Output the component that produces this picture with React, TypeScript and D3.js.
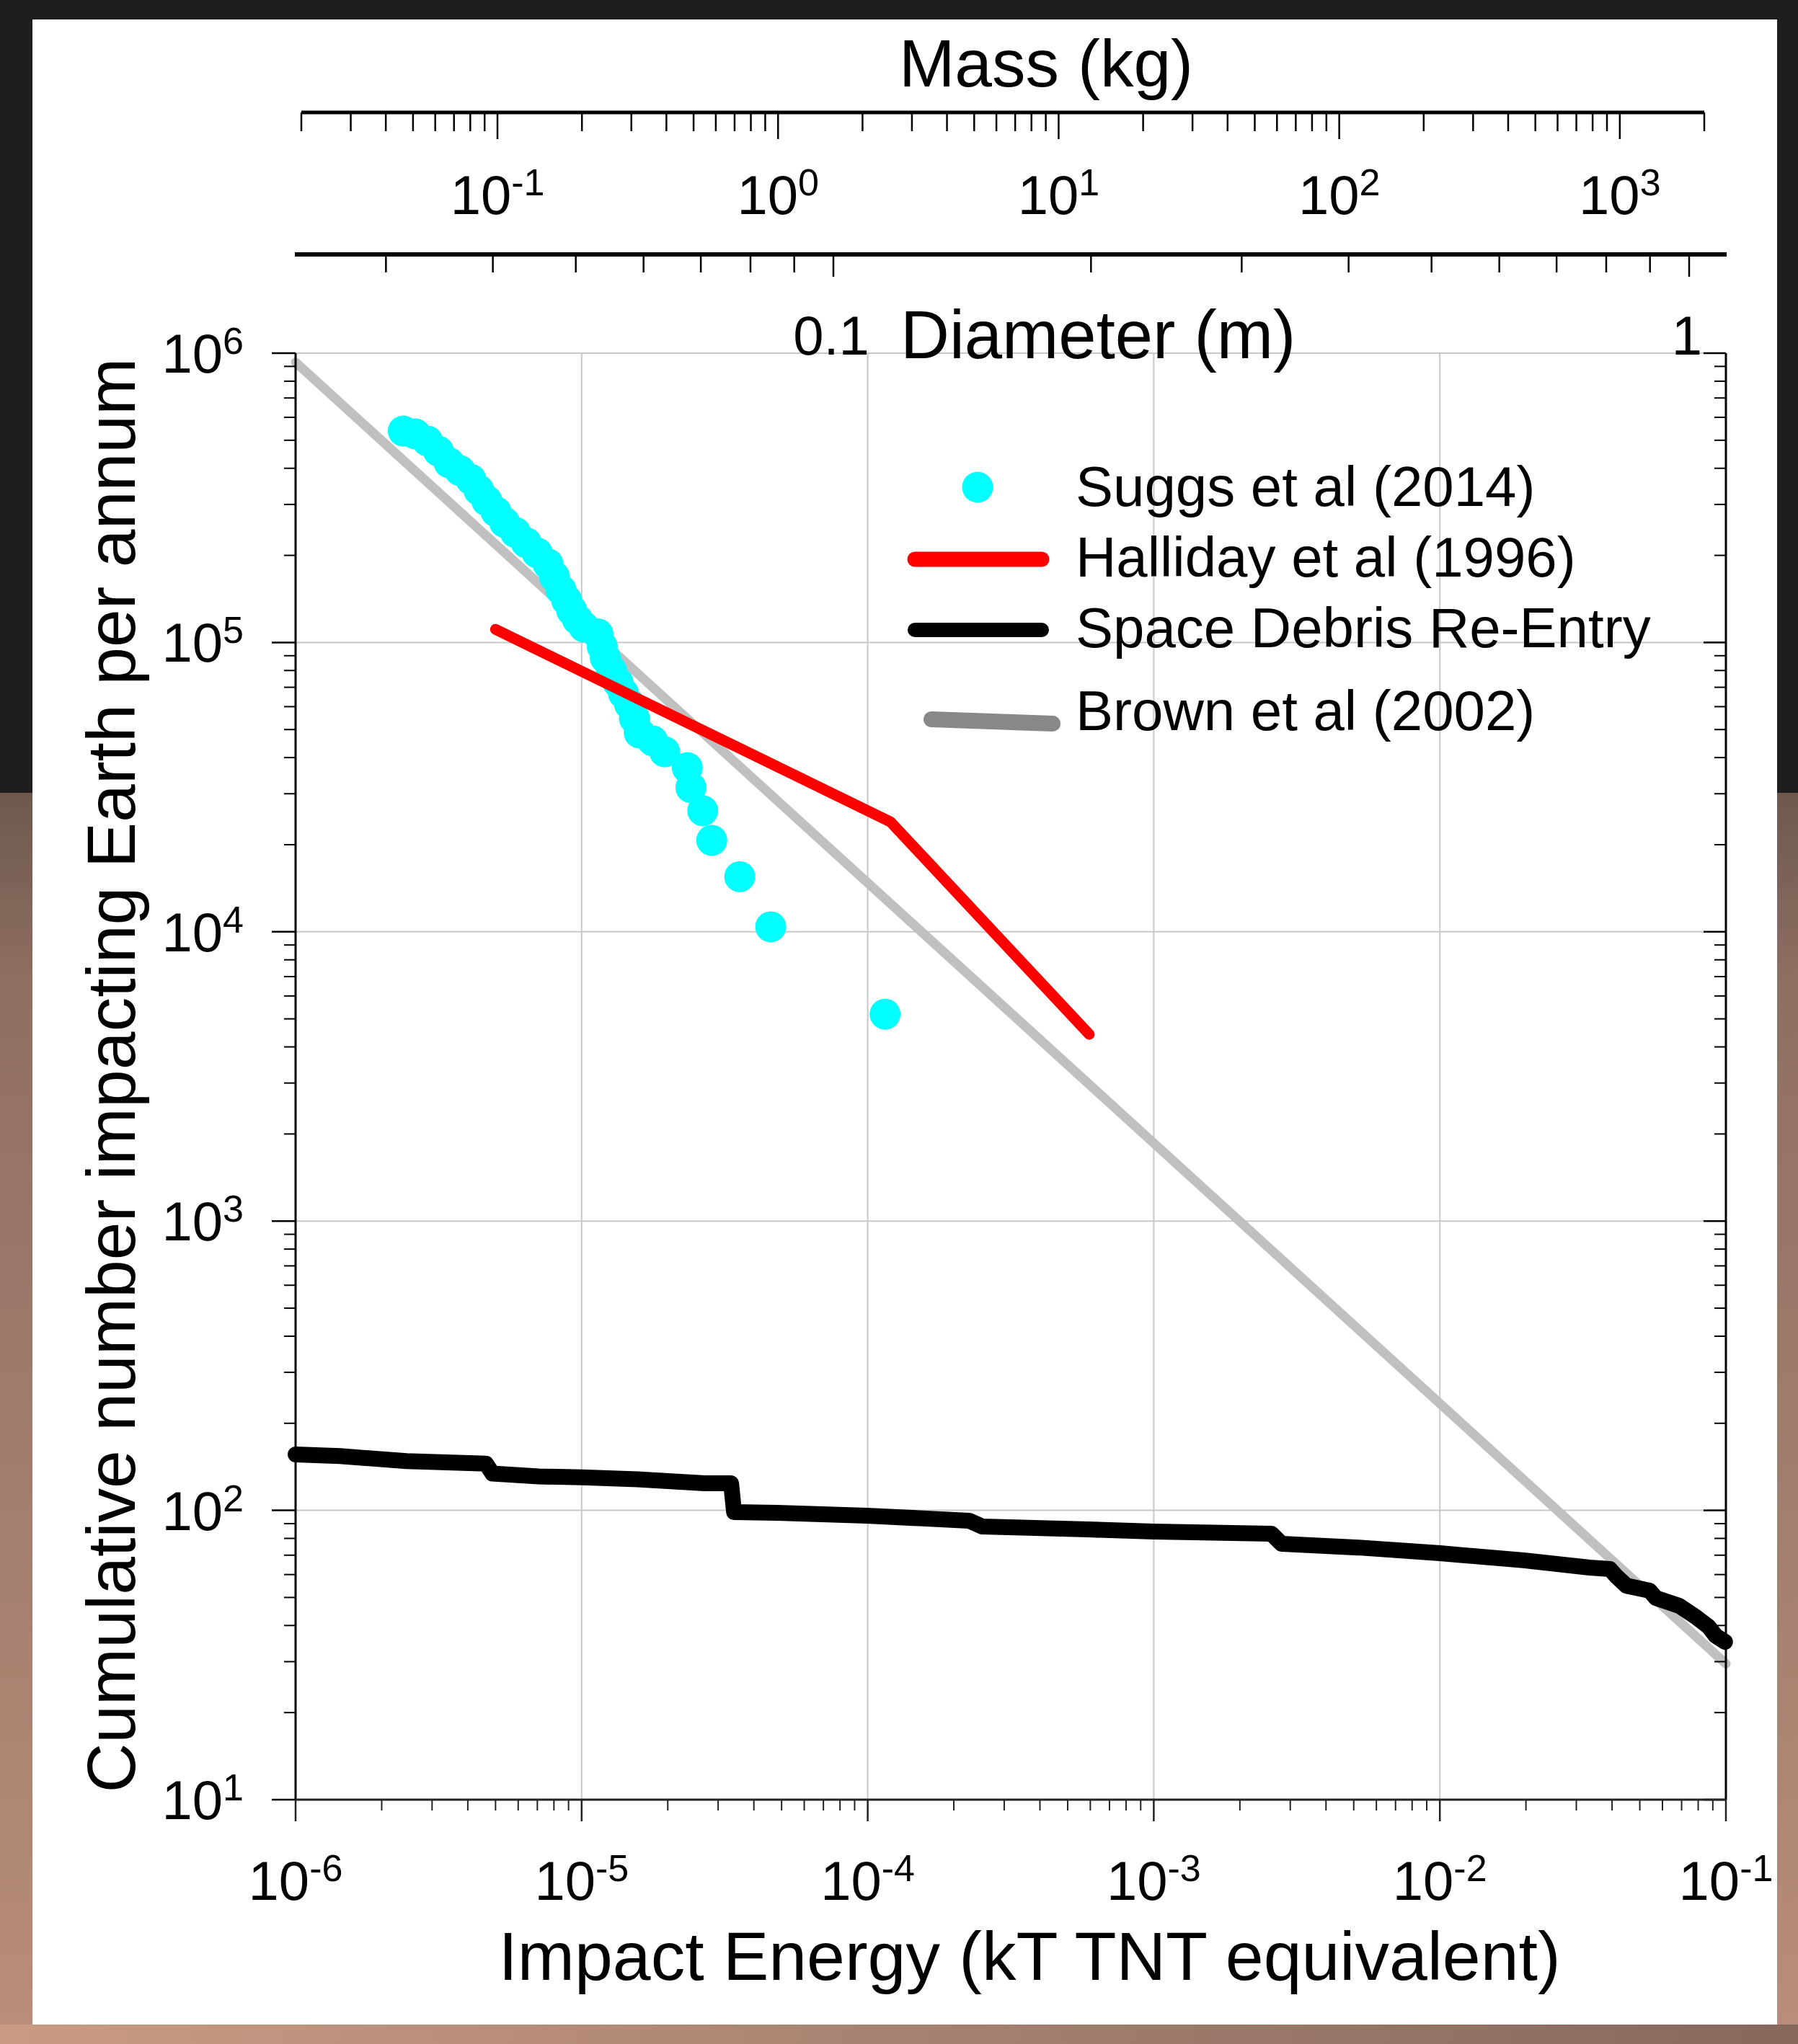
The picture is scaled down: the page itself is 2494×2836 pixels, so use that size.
import React from 'react';
import * as d3 from 'd3';

const W = 2494;
const H = 2836;
const FONT = '"Liberation Sans", Arial, Helvetica, sans-serif';

// Suggs et al (2014): cumulative impact flashes
const suggsEnergy = [2.38e-6, 2.62e-6, 2.89e-6, 3.16e-6, 3.44e-6, 3.75e-6, 4.10e-6, 4.37e-6, 4.66e-6, 5.02e-6,
  5.38e-6, 5.87e-6, 6.41e-6, 6.99e-6, 7.62e-6, 8.03e-6, 8.46e-6, 8.86e-6, 9.23e-6, 9.67e-6,
  1.02e-5, 1.14e-5, 1.18e-5, 1.21e-5, 1.27e-5, 1.34e-5, 1.40e-5, 1.47e-5, 1.53e-5, 1.59e-5,
  1.77e-5, 1.95e-5, 2.34e-5, 2.41e-5, 2.65e-5, 2.85e-5, 3.57e-5, 4.58e-5, 1.15e-4];
const suggsCount = [5.38e5, 5.26e5, 4.97e5, 4.58e5, 4.18e5, 3.93e5, 3.66e5, 3.36e5, 3.09e5, 2.83e5,
  2.60e5, 2.40e5, 2.21e5, 2.04e5, 1.87e5, 1.69e5, 1.52e5, 1.40e5, 1.29e5, 1.20e5,
  1.13e5, 1.07e5, 9.68e4, 8.84e4, 8.01e4, 7.27e4, 6.67e4, 6.12e4, 5.46e4, 4.87e4,
  4.57e4, 4.19e4, 3.69e4, 3.15e4, 2.62e4, 2.07e4, 1.55e4, 1.04e4, 5.19e3];

// Halliday et al (1996)
const hallidayEnergy = [5.0e-6, 1.2e-4, 5.95e-4];
const hallidayCount = [1.11e5, 2.4e4, 4.42e3];

// Brown et al (2002)
const brownEnergy = [1e-6, 0.1];
const brownCount = [9.3e5, 29.5];

// Space debris re-entry
const debrisEnergy = [1.0e-6, 1.43e-6, 2.44e-6, 4.63e-6, 4.88e-6, 7.07e-6, 1.0e-5, 1.57e-5, 2.69e-5, 3.33e-5,
  3.41e-5, 4.83e-5, 9.91e-5, 2.26e-4, 2.51e-4, 5.89e-4, 1.0e-3, 2.58e-3, 2.80e-3, 5.19e-3,
  1.0e-2, 1.96e-2, 3.34e-2, 3.93e-2, 4.14e-2, 4.49e-2, 5.41e-2, 5.69e-2, 6.86e-2, 7.83e-2,
  8.70e-2, 9.22e-2, 9.93e-2];
const debrisCount = [156, 154, 148, 145, 134, 131, 130, 128, 124, 124,
  98.6, 98.1, 95.9, 92.1, 88.0, 85.9, 84.5, 83.0, 76.6, 74.4,
  71.1, 67.2, 63.4, 62.7, 59.2, 54.9, 52.8, 49.8, 46.8, 42.9,
  39.6, 36.8, 35.1];

const xTickExps = [-6, -5, -4, -3, -2, -1];
const yTickExps = [1, 2, 3, 4, 5, 6];
const massTickExps = [-1, 0, 1, 2, 3];
const diameterLabels = [0.1, 1];
const legendNames = ['Suggs et al (2014)', 'Halliday et al (1996)', 'Space Debris Re-Entry', 'Brown et al (2002)'];

function Pow({ x, y, exp, anchor }: { x: number; y: number; exp: number; anchor: string }) {
  return (
    <text x={x} y={y} textAnchor={anchor} fontSize={76} fill="#000">
      10<tspan dy={-26} fontSize={52}>{String(exp)}</tspan>
    </text>
  );
}

export default function App() {
  const x = d3.scaleLog().domain([1e-6, 1e-1]).range([410, 2394]);
  const y = d3.scaleLog().domain([10, 1e6]).range([2497, 490]);
  const mass = d3.scaleLog().domain([0.02, 2000]).range([418, 2364]);
  const diam = d3.scaleLog().domain([0.1, 1]).range([1156, 2343]);

  const left = x.range()[0], right = x.range()[1];
  const top = y.range()[1], bottom = y.range()[0];

  const pts = (ex: number[], ny: number[]) => ex.map((e, i) => [e, ny[i]] as [number, number]);
  const line = d3.line<[number, number]>().x(d => x(d[0])).y(d => y(d[1]));

  // ticks
  const xMinor: number[] = [];
  for (let e = -6; e < -1; e++) for (let m = 2; m < 10; m++) xMinor.push(m * Math.pow(10, e));
  const yMinor: number[] = [];
  for (let e = 1; e < 6; e++) for (let m = 2; m < 10; m++) yMinor.push(m * Math.pow(10, e));
  const massTicks: { v: number; major: boolean }[] = [];
  for (let e = -2; e <= 3; e++) for (let m = 1; m < 10; m++) {
    const v = m * Math.pow(10, e);
    if (v >= 0.0199 && v <= 2001) massTicks.push({ v, major: m === 1 });
  }
  const diamTicks: { v: number; major: boolean }[] = [];
  for (let m = 3; m < 10; m++) diamTicks.push({ v: m * 0.01, major: false });
  for (let m = 1; m < 10; m++) diamTicks.push({ v: m * 0.1, major: m === 1 });
  diamTicks.push({ v: 1, major: true });

  const grid = '#c8c8c8';

  return (
    <div style={{ position: 'absolute', left: 0, top: 0 }}>
      <svg width={W} height={H} style={{ display: 'block', fontFamily: FONT }}>
        <defs>
          <linearGradient id="bgLow" x1="0" y1="0" x2="0" y2="1">
            <stop offset="0" stopColor="#6e584e" />
            <stop offset="0.15" stopColor="#8e6f61" />
            <stop offset="1" stopColor="#b98d7a" />
          </linearGradient>
          <linearGradient id="bgBottom" x1="0" y1="0" x2="1" y2="0">
            <stop offset="0" stopColor="#c99b85" />
            <stop offset="0.35" stopColor="#b38a77" />
            <stop offset="0.65" stopColor="#9b7a6a" />
            <stop offset="1" stopColor="#86695c" />
          </linearGradient>
        </defs>
        <rect x={0} y={0} width={W} height={H} fill="#1e1e1e" />
        <rect x={0} y={1100} width={W} height={H - 1100} fill="url(#bgLow)" />
        <rect x={0} y={2809} width={W} height={H - 2809} fill="url(#bgBottom)" />
        <rect x={45} y={27} width={2420} height={2782} fill="#fff" />

        {/* grid */}
        {xTickExps.slice(1, -1).map(e => (
          <line key={'gx' + e} x1={x(Math.pow(10, e))} x2={x(Math.pow(10, e))} y1={top} y2={bottom} stroke={grid} strokeWidth={2} />
        ))}
        {yTickExps.slice(1).map(e => (
          <line key={'gy' + e} x1={left} x2={right} y1={y(Math.pow(10, e))} y2={y(Math.pow(10, e))} stroke={grid} strokeWidth={2} />
        ))}

        {/* series */}
        <path d={line(pts(brownEnergy, brownCount)) || ''} fill="none" stroke="#c0c0c0" strokeWidth={13} strokeLinecap="round" />
        {suggsEnergy.map((e, i) => (
          <circle key={'s' + i} cx={x(e)} cy={y(suggsCount[i])} r={21.5} fill="#00ffff" />
        ))}
        <path d={line(pts(hallidayEnergy, hallidayCount)) || ''} fill="none" stroke="#ff0000" strokeWidth={15} strokeLinecap="round" strokeLinejoin="round" />
        <path d={line(pts(debrisEnergy, debrisCount)) || ''} fill="none" stroke="#000" strokeWidth={22} strokeLinecap="round" strokeLinejoin="round" />

        {/* left axis */}
        <line x1={left} x2={left} y1={top} y2={bottom} stroke="#000" strokeWidth={3} />
        {yTickExps.map(e => (
          <line key={'lM' + e} x1={left - 33} x2={left} y1={y(Math.pow(10, e))} y2={y(Math.pow(10, e))} stroke="#000" strokeWidth={2.5} />
        ))}
        {yMinor.map(v => (
          <line key={'lm' + v} x1={left - 16} x2={left} y1={y(v)} y2={y(v)} stroke="#000" strokeWidth={2} />
        ))}
        {/* right axis */}
        <line x1={right} x2={right} y1={top} y2={bottom} stroke="#000" strokeWidth={3} />
        {yTickExps.map(e => (
          <line key={'rM' + e} x1={right - 31} x2={right} y1={y(Math.pow(10, e))} y2={y(Math.pow(10, e))} stroke="#000" strokeWidth={2.5} />
        ))}
        {yMinor.map(v => (
          <line key={'rm' + v} x1={right - 16} x2={right} y1={y(v)} y2={y(v)} stroke="#000" strokeWidth={2} />
        ))}
        {/* bottom axis */}
        <line x1={left} x2={right} y1={bottom} y2={bottom} stroke="#222" strokeWidth={3} />
        {xTickExps.map(e => (
          <line key={'bM' + e} x1={x(Math.pow(10, e))} x2={x(Math.pow(10, e))} y1={bottom} y2={bottom + 30} stroke="#222" strokeWidth={2.5} />
        ))}
        {xMinor.map(v => (
          <line key={'bm' + v} x1={x(v)} x2={x(v)} y1={bottom} y2={bottom + 15} stroke="#222" strokeWidth={2} />
        ))}

        {/* tick labels */}
        {xTickExps.map(e => (
          <Pow key={'xl' + e} x={x(Math.pow(10, e))} y={2636} exp={e} anchor="middle" />
        ))}
        {yTickExps.map(e => (
          <Pow key={'yl' + e} x={338} y={y(Math.pow(10, e)) + 27} exp={e} anchor="end" />
        ))}

        {/* axis titles */}
        <text x={1428} y={2747} textAnchor="middle" fontSize={95}>Impact Energy (kT TNT equivalent)</text>
        <text transform="translate(187,1492) rotate(-90)" textAnchor="middle" fontSize={95}>
          Cumulative number impacting Earth per annum
        </text>

        {/* mass axis */}
        <text x={1451} y={120} textAnchor="middle" fontSize={93}>Mass (kg)</text>
        <line x1={mass.range()[0]} x2={mass.range()[1]} y1={156} y2={156} stroke="#000" strokeWidth={5} />
        {massTicks.map(t => (
          <line key={'mt' + t.v} x1={mass(t.v)} x2={mass(t.v)} y1={156} y2={t.major ? 193 : 182} stroke="#000" strokeWidth={2.5} />
        ))}
        {massTickExps.map(e => (
          <Pow key={'ml' + e} x={mass(Math.pow(10, e))} y={297} exp={e} anchor="middle" />
        ))}

        {/* diameter axis */}
        <line x1={409} x2={2395} y1={353} y2={353} stroke="#000" strokeWidth={6} />
        {diamTicks.map(t => (
          <line key={'dt' + t.v} x1={diam(t.v)} x2={diam(t.v)} y1={353} y2={t.major ? 384 : 378} stroke="#000" strokeWidth={2.5} />
        ))}
        {diameterLabels.map(v => (
          <text key={'dl' + v} x={diam(v) - 3} y={492} textAnchor="middle" fontSize={76}>{String(v)}</text>
        ))}
        <text x={1249} y={497} fontSize={94}>Diameter (m)</text>

        {/* legend */}
        <circle cx={1356} cy={676} r={21.5} fill="#00ffff" />
        <line x1={1269} x2={1445} y1={776} y2={776} stroke="#ff0000" strokeWidth={21} strokeLinecap="round" />
        <line x1={1269} x2={1445} y1={874} y2={874} stroke="#000" strokeWidth={20} strokeLinecap="round" />
        <line x1={1292} x2={1460} y1={998} y2={1004} stroke="#888" strokeWidth={22} strokeLinecap="round" />
        {legendNames.map((n, i) => (
          <text key={n} x={1492} y={[702, 800, 898, 1013][i]} fontSize={78}>{n}</text>
        ))}
      </svg>
    </div>
  );
}
